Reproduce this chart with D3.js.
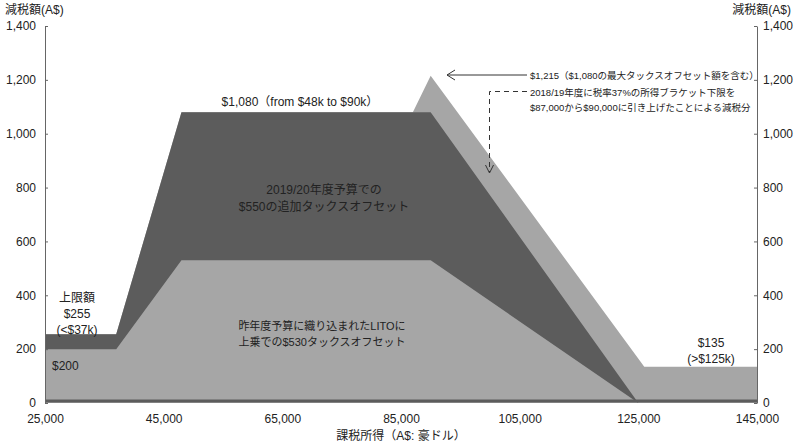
<!DOCTYPE html>
<html>
<head>
<meta charset="utf-8">
<script src="https://cdn.jsdelivr.net/npm/d3@7"></script>
<style>
  body { margin: 0; background: #fff; }
  svg text { font-family: "Liberation Sans", "Noto Sans CJK JP", sans-serif; fill: #222; }
</style>
</head>
<body>
<div id="chart"></div>
<script>
// income (A$) and offset (A$) break points
const totalIncome = [25000, 37000, 48000, 87000, 90000, 126000, 145000];
const totalOffset = [255, 255, 1080, 1080, 1215, 135, 135];

const extraIncome = [25000, 37000, 48000, 90000, 125000];
const extraOffset = [255, 255, 1080, 1080, 0];

const litoIncome = [25000, 37000, 48000, 90000, 125000];
const litoOffset = [200, 200, 530, 530, 0];

const xTicks = [25000, 45000, 65000, 85000, 105000, 125000, 145000];
const yTicks = [0, 200, 400, 600, 800, 1000, 1200, 1400];

const W = 796, H = 442;
const light = '#a6a6a6', dark = '#5c5c5c';

const svg = d3.select('#chart').append('svg')
    .attr('width', W)
    .attr('height', H);

const x = d3.scaleLinear().domain([25000, 145000]).range([45, 757]);
const y = d3.scaleLinear().domain([0, 1400]).range([403, 26]);

const area = d3.area()
    .x(d => x(d[0]))
    .y0(y(0))
    .y1(d => y(d[1]));

// areas drawn back to front
svg.append('path')
    .datum(d3.zip(totalIncome, totalOffset))
    .attr('fill', light)
    .attr('d', area);

svg.append('path')
    .datum(d3.zip(extraIncome, extraOffset))
    .attr('fill', dark)
    .attr('d', area);

svg.append('path')
    .datum(d3.zip(litoIncome, litoOffset))
    .attr('fill', light)
    .attr('d', area);

// baseline
svg.append('line')
    .attr('x1', x(25000)).attr('x2', x(145000))
    .attr('y1', y(0) - 2).attr('y2', y(0) - 2)
    .attr('stroke', dark)
    .attr('stroke-width', 3);

// axes
const fmt = d3.format(',');

const xAxis = svg.append('g')
    .attr('transform', `translate(0,${y(0)})`)
    .call(d3.axisBottom(x).tickValues(xTicks).tickFormat(fmt).tickSize(0).tickPadding(11));
xAxis.select('.domain').remove();
xAxis.selectAll('text').style('font-size', '12px');

const yLeft = svg.append('g')
    .attr('transform', `translate(${x(25000)},0)`)
    .call(d3.axisLeft(y).tickValues(yTicks).tickFormat(fmt).tickSizeInner(-3).tickSizeOuter(0).tickPadding(9));

const yRight = svg.append('g')
    .attr('transform', `translate(${x(145000)},0)`)
    .call(d3.axisRight(y).tickValues(yTicks).tickFormat(fmt).tickSizeInner(-3).tickSizeOuter(0).tickPadding(6));

[yLeft, yRight].forEach(g => {
    g.select('.domain').attr('stroke', '#666');
    g.selectAll('.tick line').attr('stroke', '#666');
    g.selectAll('text').style('font-size', '12px');
});

// axis titles
svg.append('text').attr('x', 5).attr('y', 14)
    .style('font-size', '12px').text('減税額(A$)');
svg.append('text').attr('x', 791).attr('y', 14)
    .attr('text-anchor', 'end')
    .style('font-size', '12px').text('減税額(A$)');
svg.append('text').attr('x', 401).attr('y', 440)
    .attr('text-anchor', 'middle')
    .style('font-size', '12px').text('課税所得（A$: 豪ドル）');

// labels inside the chart
function label(lines, cx, cy, size, anchor, gap) {
    const t = svg.append('text')
        .attr('text-anchor', anchor || 'middle')
        .style('font-size', size + 'px');
    lines.forEach((s, i) => {
        t.append('tspan').attr('x', cx).attr('y', cy + i * (gap || size * 1.35)).text(s);
    });
}

label(['$1,080（from $48k to $90k）'], 300, 106, 12);
label(['2019/20年度予算での', '$550の追加タックスオフセット'], 324, 194, 12, 'middle', 17);
label(['昨年度予算に織り込まれたLITOに', '上乗での$530タックスオフセット'], 322, 330, 11, 'middle', 16);
label(['上限額', '$255', '(<$37k)'], 77, 302, 12);
label(['$200'], 52, 370, 12, 'start');
label(['$135', '(>$125k)'], 711, 347, 12);

// annotations on the right
label(['$1,215（$1,080の最大タックスオフセット額を含む）'], 530, 79, 9.5, 'start');
label(['2018/19年度に税率37%の所得ブラケット下限を', '$87,000から$90,000に引き上げたことによる減税分'], 530, 96, 9.5, 'start', 14.5);

const ink = '#333';
svg.append('line')
    .attr('x1', 527).attr('y1', 75).attr('x2', 447).attr('y2', 75)
    .attr('stroke', ink).attr('stroke-width', 1);
svg.append('path')
    .attr('d', 'M455,70 L447,75 L455,80')
    .attr('fill', 'none').attr('stroke', ink).attr('stroke-width', 1);

svg.append('path')
    .attr('d', 'M527,91.5 L489.5,91.5 L489.5,172')
    .attr('fill', 'none').attr('stroke', ink).attr('stroke-width', 1)
    .attr('stroke-dasharray', '5,4');
svg.append('path')
    .attr('d', 'M485.5,165 L489.5,173 L493.5,165')
    .attr('fill', 'none').attr('stroke', ink).attr('stroke-width', 1);
</script>
</body>
</html>
